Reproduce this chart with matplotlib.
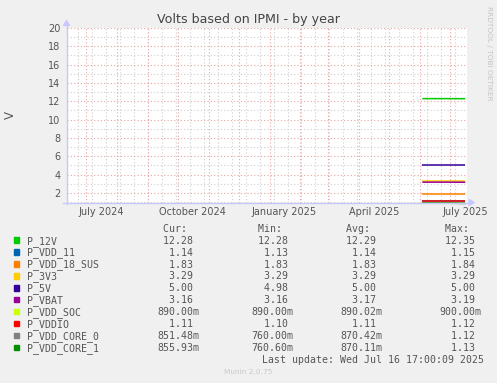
import matplotlib
matplotlib.use("Agg")
import matplotlib.pyplot as plt
from matplotlib.patches import Polygon, Rectangle
from matplotlib.lines import Line2D
import datetime as dt

# ---- data ----
names = ["P_12V", "P_VDD_11", "P_VDD_18_SUS", "P_3V3", "P_5V", "P_VBAT",
         "P_VDD_SOC", "P_VDDIO", "P_VDD_CORE_0", "P_VDD_CORE_1"]
colors = ["#00CC00", "#0066B3", "#FF8000", "#FFCC00", "#330099", "#990099",
          "#CCFF00", "#FF0000", "#808080", "#008F00"]
sample_dates = ["2025-06-03", "2025-06-16", "2025-06-30", "2025-07-16"]
series = {
    "P_12V":        [12.29, 12.29, 12.29, 12.28],
    "P_VDD_11":     [1.14, 1.14, 1.14, 1.14],
    "P_VDD_18_SUS": [1.83, 1.83, 1.83, 1.83],
    "P_3V3":        [3.29, 3.29, 3.29, 3.29],
    "P_5V":         [5.00, 5.00, 5.00, 5.00],
    "P_VBAT":       [3.17, 3.17, 3.17, 3.16],
    "P_VDD_SOC":    [0.89, 0.89, 0.89, 0.89],
    "P_VDDIO":      [1.11, 1.11, 1.11, 1.11],
    "P_VDD_CORE_0": [0.87, 0.87, 0.87, 0.85],
    "P_VDD_CORE_1": [0.87, 0.87, 0.87, 0.86],
}
cur = ["12.28 ", "1.14 ", "1.83 ", "3.29 ", "5.00 ", "3.16 ", "890.00m", "1.11 ", "851.48m", "855.93m"]
mn  = ["12.28 ", "1.13 ", "1.83 ", "3.29 ", "4.98 ", "3.16 ", "890.00m", "1.10 ", "760.00m", "760.60m"]
avg = ["12.29 ", "1.14 ", "1.83 ", "3.29 ", "5.00 ", "3.17 ", "890.02m", "1.11 ", "870.42m", "870.11m"]
mx  = ["12.35 ", "1.15 ", "1.84 ", "3.29 ", "5.00 ", "3.19 ", "900.00m", "1.12 ", "1.12 ", "1.13 "]
x_labels = ["July 2024", "October 2024", "January 2025", "April 2025", "July 2025"]
x_label_months = ["2024-07", "2024-10", "2025-01", "2025-04", "2025-07"]
y_ticks = [2, 4, 6, 8, 10, 12, 14, 16, 18, 20]
last_update = "Last update: Wed Jul 16 17:00:09 2025"

W, H = 497, 383
fig = plt.figure(figsize=(W / 100, H / 100), dpi=100)
fig.patch.set_facecolor("#F0F0F0")

def P(x, y):
    return (x / W, 1 - y / H)

L, R, T, B = 66.5, 467, 28, 202.5
ax = fig.add_axes([L / W, 1 - B / H, (R - L) / W, (B - T) / H])
ax.set_facecolor("white")

end = dt.datetime(2025, 7, 16, 17, 0)
start = end - dt.timedelta(days=400)
ax.set_xlim(start, end + dt.timedelta(days=1))
ax.set_ylim(0.95, 20)

# grid
red = "#E9A3A3"
gray = "#CFCFCF"
dots = (0, (1, 2))
glw = 0.8
for v in range(1, 20, 2):
    ax.axhline(v, color=gray, lw=glw, ls=dots, zorder=1)
for v in y_ticks:
    ax.axhline(v, color=red, lw=glw, ls=dots, zorder=1.5)
d = dt.datetime(2024, 6, 23)
while d < end:
    ax.axvline(d, color=gray, lw=glw, ls=dots, zorder=1)
    d += dt.timedelta(days=14)
m = dt.datetime(2024, 7, 1)
while m < end:
    ax.axvline(m, color=red, lw=glw, ls=dots, zorder=1.5)
    m = dt.datetime(m.year + (m.month // 12), m.month % 12 + 1, 1)

# data lines
xd = [dt.datetime.strptime(s, "%Y-%m-%d") for s in sample_dates]
for i, n in enumerate(names):
    ax.plot(xd, series[n], color=colors[i], lw=1.1, zorder=3 + i,
            clip_on=False, solid_capstyle="butt")

for s in ax.spines.values():
    s.set_visible(False)

ax.set_yticks(y_ticks)
ax.set_yticklabels([str(v) for v in y_ticks])
xt = [dt.datetime.strptime(s + "-16", "%Y-%m-%d") for s in x_label_months]
ax.set_xticks(xt)
ax.set_xticklabels(x_labels)
ax.tick_params(length=0, labelsize=7, colors="#555555", pad=3.5)
ax.tick_params(axis="y", pad=4.5)

# axis lines & arrows
ac = "#C8C8FF"
fig.add_artist(Line2D([P(66.5, 0)[0]] * 2, [P(0, 204)[1], P(0, 24)[1]], color=ac, lw=1, transform=fig.transFigure))
fig.add_artist(Line2D([P(63, 0)[0], P(470, 0)[0]], [P(0, 202.5)[1]] * 2, color=ac, lw=1, transform=fig.transFigure))
fig.add_artist(Polygon([P(63.5, 25.5), P(69.5, 25.5), P(66.5, 20.5)], closed=True, color=ac, transform=fig.transFigure))
fig.add_artist(Polygon([P(469, 199.5), P(469, 205.5), P(474.5, 202.5)], closed=True, color=ac, transform=fig.transFigure))

# titles
fig.text(*P(249, 19), "Volts based on IPMI - by year", ha="center", va="center", fontsize=9.1, color="#444444")
fig.text(*P(10, 115), "V", ha="center", va="center", rotation=90, fontsize=8.5, color="#555555")
fig.text(*P(488.5, 53.5), "RRDTOOL / TOBI OETIKER", ha="center", va="center", rotation=270, fontsize=5.3, color="#C4C4C4")
fig.text(*P(248, 372), "Munin 2.0.75", ha="center", va="center", fontsize=5.3, color="#C8C8C8")

# legend
mono = dict(family="DejaVu Sans Mono", fontsize=7.1, color="#555555", va="baseline", ha="left")
off = 3.6
col_x = [157, 251.7, 340, 439.3]
heads = [" Cur:", " Min:", " Avg:", " Max:"]
for cx, h in zip(col_x, heads):
    fig.text(*P(cx, 228 + off), h, **mono)
for i, n in enumerate(names):
    y = 240 + 11.95 * i
    fig.add_artist(Rectangle(P(14, y + 2.7), 5.3 / W, 5.3 / H, color=colors[i], transform=fig.transFigure))
    fig.text(*P(26.7, y + off), n, **mono)
    for cx, col in zip(col_x, [cur, mn, avg, mx]):
        fig.text(*P(cx, y + off), col[i].rjust(7), **mono)
fig.text(*P(261.7, 359.5 + off), last_update, **mono)

fig.savefig("out.png", dpi=100, facecolor=fig.get_facecolor())
